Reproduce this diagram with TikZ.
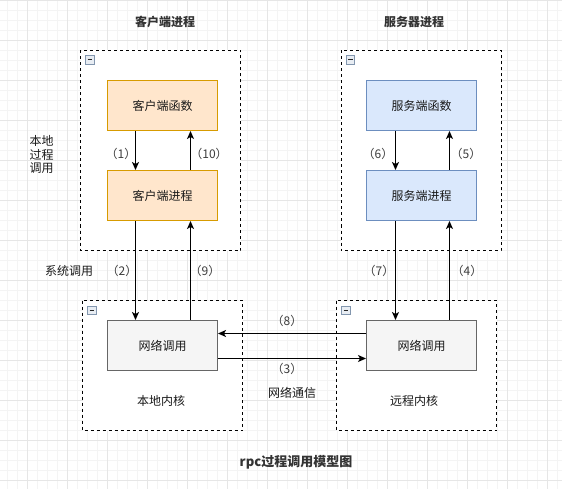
\documentclass[tikz,border=0pt]{standalone}
\usepackage{fontspec}
\setmainfont{Noto Sans CJK SC}
\usetikzlibrary{arrows.meta}
\definecolor{orfill}{HTML}{FFE6CC}
\definecolor{orline}{HTML}{D79B00}
\definecolor{blfill}{HTML}{DAE8FC}
\definecolor{blline}{HTML}{6C8EBF}
\definecolor{gyfill}{HTML}{F5F5F5}
\definecolor{gyline}{HTML}{666666}
\definecolor{gridminor}{HTML}{F4F4F4}
\definecolor{gridmajor}{HTML}{E6E6E6}
\definecolor{txt}{HTML}{1A1A1A}
\definecolor{icofill}{HTML}{E8EDF3}
\definecolor{icoline}{HTML}{8296AE}
\tikzset{
  box/.style={draw, line width=1pt, minimum width=110pt, minimum height=50pt, inner sep=0pt, font=\fontsize{12}{14}\selectfont, text=txt},
  orbox/.style={box, fill=orfill, draw=orline},
  blbox/.style={box, fill=blfill, draw=blline},
  gybox/.style={box, fill=gyfill, draw=gyline},
  container/.style={draw=black, fill=white, line width=1pt, dash pattern=on 3pt off 3pt},
  conn/.style={draw=black, line width=1pt, -{Stealth[length=8pt,width=7pt,inset=2pt]}},
  lbl/.style={font=\fontsize{12}{14}\selectfont, text=txt!85, inner sep=0pt},
  txtl/.style={font=\fontsize{12}{14}\selectfont, text=txt, inner sep=0pt},
  ttl/.style={font=\fontsize{12}{14}\selectfont\bfseries, text=black!80, inner sep=0pt},
}
\newcommand{\collicon}[2]{%
  \draw[icoline, fill=icofill, line width=0.8pt] (#1,#2) rectangle ++(8.5,8.5);
  \draw[black!85, line width=1.4pt] (#1+2,#2+4.25) -- ++(4.5,0);
}
\begin{document}
\begin{tikzpicture}[x=1pt,y=-1pt]
\useasboundingbox (0,0) rectangle (562,489);
\fill[white] (0,0) rectangle (562,489);
% grid
\foreach \gx in {7,17,...,557} \draw[gridminor, line width=0.8pt] (\gx,0) -- (\gx,489);
\foreach \gy in {10,20,...,480} \draw[gridminor, line width=0.8pt] (0,\gy) -- (562,\gy);
\foreach \gx in {27,67,...,547} \draw[gridmajor, line width=0.8pt] (\gx,0) -- (\gx,489);
\foreach \gy in {0,40,...,480} \draw[gridmajor, line width=0.8pt] (0,\gy) -- (562,\gy);

% containers
\draw[container] (80.5,50.5) rectangle (240.5,250.5);
\draw[container] (341,50.5) rectangle (501,250.5);
\draw[container] (82.5,300.5) rectangle (242.5,430.5);
\draw[container] (336.5,300.5) rectangle (496.5,430.5);
\collicon{85.5}{55.5}
\collicon{346}{55.5}
\collicon{87.5}{306}
\collicon{341.5}{306}

% titles
\node[ttl] (t1) at (165,22) {客户端进程};
\node[ttl] (t2) at (414,22) {服务器进程};
\node[font=\fontsize{13}{15}\selectfont\bfseries, text=black!80, inner sep=0pt] (t3) at (296,462) {rpc过程调用模型图};

% boxes
\node[orbox] (cf) at (162.5,105.5) {客户端函数};
\node[orbox] (cp) at (162.5,195.5) {客户端进程};
\node[blbox] (sf) at (421.5,105.5) {服务端函数};
\node[blbox] (sp) at (421.5,195.5) {服务端进程};
\node[gybox] (ln) at (162.5,345.5) {网络调用};
\node[gybox] (rn) at (421.5,345.5) {网络调用};

% connectors
\draw[conn] (cf.south -| 135.5,0) -- (cp.north -| 135.5,0);
\draw[conn] (cp.north -| 190.5,0) -- (cf.south -| 190.5,0);
\draw[conn] (sf.south -| 395.5,0) -- (sp.north -| 395.5,0);
\draw[conn] (sp.north -| 449.5,0) -- (sf.south -| 449.5,0);
\draw[conn] (cp.south -| 135.5,0) -- (ln.north -| 135.5,0);
\draw[conn] (ln.north -| 190.5,0) -- (cp.south -| 190.5,0);
\draw[conn] (sp.south -| 395.5,0) -- (rn.north -| 395.5,0);
\draw[conn] (rn.north -| 449.5,0) -- (sp.south -| 449.5,0);
\draw[conn] (rn.west |- 0,333.5) -- (ln.east |- 0,333.5);
\draw[conn] (ln.east |- 0,358.5) -- (rn.west |- 0,358.5);

% labels
\node[lbl] (l1) at (121,154) {（1）};
\node[lbl] (l10) at (209,154) {（10）};
\node[lbl] (l6) at (378,154) {（6）};
\node[lbl] (l5) at (466,154) {（5）};
\node[lbl] (l2) at (122,271) {（2）};
\node[lbl] (l9) at (205,271) {（9）};
\node[lbl] (l7) at (379,271) {（7）};
\node[lbl] (l4) at (467,271) {（4）};
\node[lbl] (l8) at (287,321) {（8）};
\node[lbl] (l3) at (287,369) {（3）};

\node[txtl, align=center] (lp) at (41.5,154.5) {本地\\[-0.5pt]过程\\[-0.5pt]调用};
\node[txtl] (sc) at (69,271) {系统调用};
\node[txtl] (nc) at (292,393) {网络通信};
\node[txtl] (lk) at (161,401) {本地内核};
\node[txtl] (rk) at (414,401) {远程内核};
\end{tikzpicture}
\end{document}
